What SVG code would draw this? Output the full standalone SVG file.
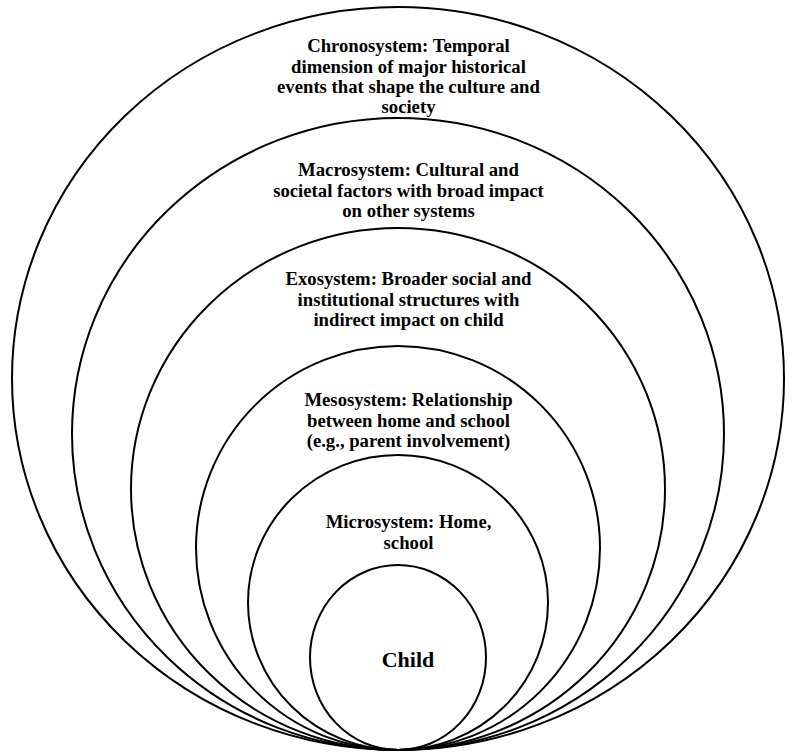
<svg xmlns="http://www.w3.org/2000/svg" width="796" height="752" viewBox="0 0 796 752">
<style>
.r{fill:none;stroke:#000;stroke-width:2}
.t{font-family:"Liberation Serif","Times New Roman",serif;font-weight:bold;font-size:18.7px;text-anchor:middle;fill:#000}
.c{font-size:22px}
</style>
<rect width="796" height="752" fill="#fff"/>
<g id="chronosystem"><ellipse class="r" cx="398" cy="378.5" rx="386" ry="371.5"/>
<text class="t"><tspan x="408.5" y="52">Chronosystem: Temporal</tspan><tspan x="408.5" y="72.5">dimension of major historical</tspan><tspan x="408.5" y="93">events that shape the culture and</tspan><tspan x="408.5" y="113">society</tspan></text></g>
<g id="macrosystem"><ellipse class="r" cx="398" cy="434" rx="326" ry="316"/>
<text class="t"><tspan x="408.5" y="176">Macrosystem: Cultural and</tspan><tspan x="408.5" y="196.5">societal factors with broad impact</tspan><tspan x="408.5" y="217">on other systems</tspan></text></g>
<g id="exosystem"><ellipse class="r" cx="398" cy="489" rx="267" ry="261"/>
<text class="t"><tspan x="408.5" y="285">Exosystem: Broader social and</tspan><tspan x="408.5" y="305.5">institutional structures with</tspan><tspan x="408.5" y="326">indirect impact on child</tspan></text></g>
<g id="mesosystem"><ellipse class="r" cx="398" cy="548" rx="202" ry="202"/>
<text class="t"><tspan x="408.5" y="406">Mesosystem: Relationship</tspan><tspan x="408.5" y="426.5">between home and school</tspan><tspan x="408.5" y="447">(e.g., parent involvement)</tspan></text></g>
<g id="microsystem"><ellipse class="r" cx="398" cy="602.5" rx="150" ry="147.5"/>
<text class="t"><tspan x="408.5" y="528">Microsystem: Home,</tspan><tspan x="408.5" y="548.5">school</tspan></text></g>
<g id="child"><ellipse class="r" cx="398" cy="657.5" rx="88" ry="92.5"/>
<text class="t c" x="408" y="667">Child</text></g>
</svg>
